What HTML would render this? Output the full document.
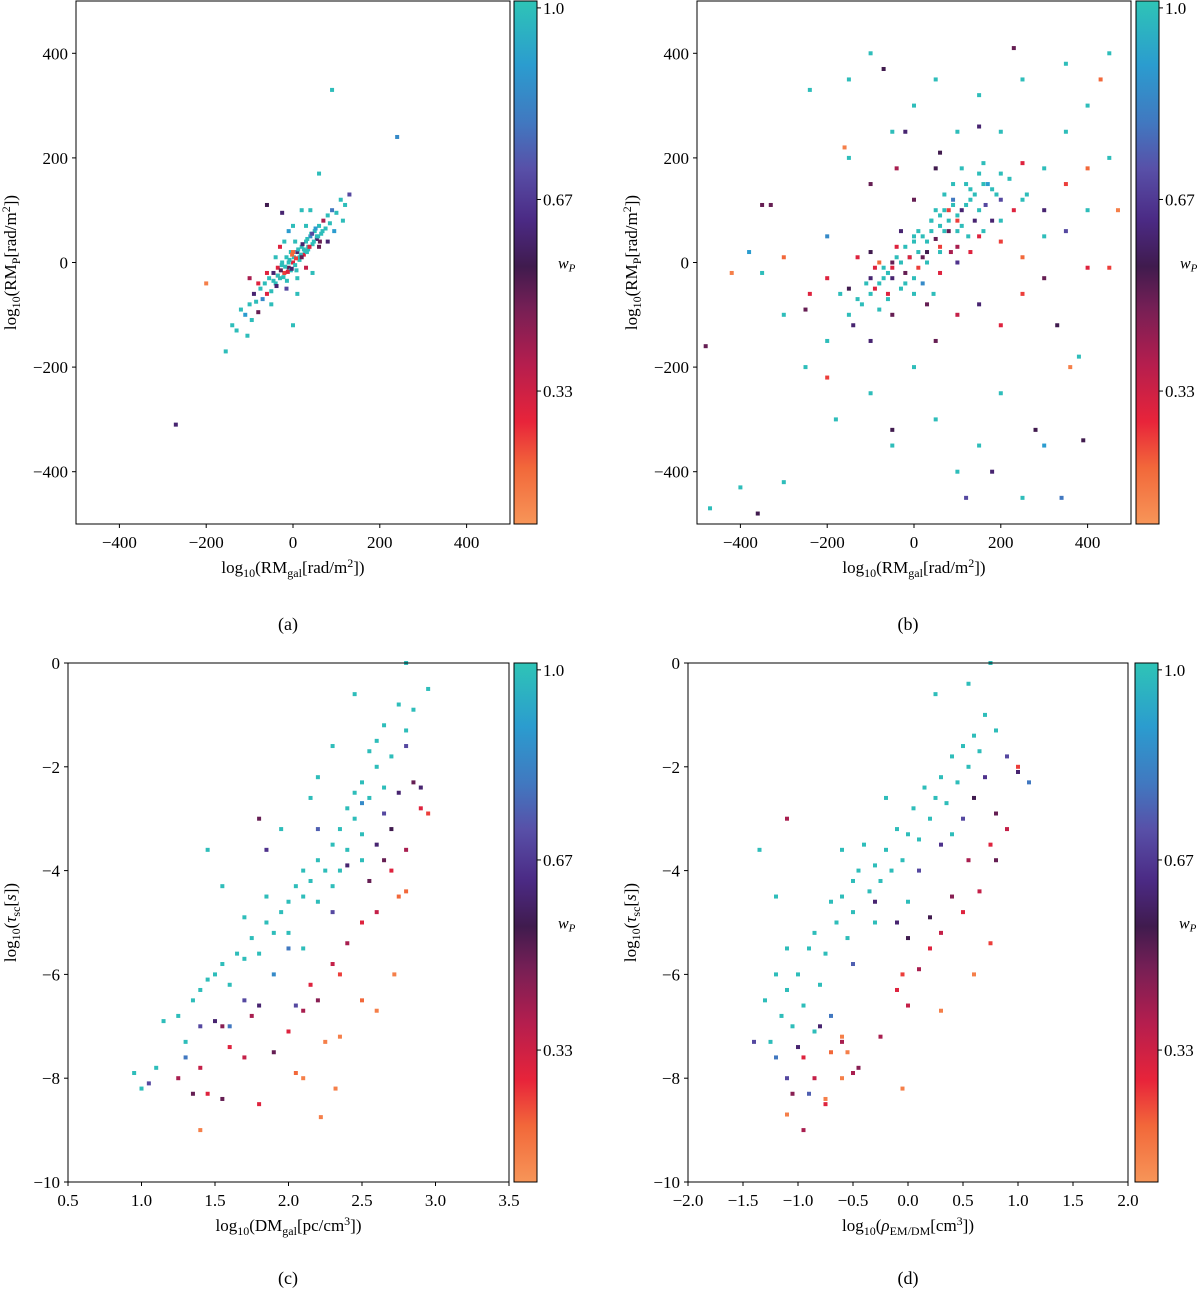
<!DOCTYPE html>
<html><head><meta charset="utf-8"><style>
html,body{margin:0;padding:0;background:#fff;}
svg{display:block;font-family:"Liberation Serif","DejaVu Serif",serif;}
</style></head><body>
<svg id="fig" width="1200" height="1292" viewBox="0 0 1200 1292" xmlns="http://www.w3.org/2000/svg">
<defs>
<linearGradient id="cbgrad" x1="0" y1="1" x2="0" y2="0"></linearGradient>
</defs>
</svg>
<script>
// ---------- data ----------
const aX=[-120,-110,-100,-95,-90,-85,-80,-75,-70,-65,-60,-55,-50,-45,-40,-35,-30,-25,-20,-15,-10,-5,0,5,10,15,20,25,30,35,40,45,50,55,60,65,70,75,80,85,90,100,110,120,130,115,95,-130,-140,-105,-20,-40,10,30,20,40,0,-30,60,80,-10,30,-60,-50,10,0,-100,-15,-25,0,5,45,-80,90,240,-200,-270,-155,60,-60,-5,15,25,-35,35,55,-10,
-45,-35,-28,-22,-18,-12,-8,-3,2,7,12,18,22,28,33,38,42,48,52,58,62,68,-38,-26,-14,-2,8,20,32,44];
const aY=[-90,-100,-80,-110,-60,-75,-95,-50,-70,-40,-60,-30,-55,-20,-40,-10,-30,0,-20,10,-10,20,0,-5,20,10,30,15,40,25,50,35,60,45,70,55,80,65,90,75,100,95,120,110,130,80,60,-130,-120,-140,40,10,-30,-10,100,100,70,30,30,40,60,70,-20,-80,-60,-120,-30,-50,95,20,40,-20,-40,330,240,-40,-310,-170,170,110,-15,5,25,-25,30,50,0,
-35,-25,-15,-28,-8,-18,5,-12,10,8,25,15,35,22,45,30,55,40,65,50,40,60,-45,-5,-35,15,-15,10,20,55];
const aW=[1,0.9,1,1,0.6,1,0.5,1,0.85,1,0.3,1,1,0.6,1,0.3,1,1,0.25,1,0.5,1,0.3,1,0.6,1,1,0.3,1,1,0.85,1,1,0.6,1,1,0.4,1,1,1,0.8,1,1,1,0.7,1,0.9,1,1,1,1,1,1,0.35,1,1,1,0.3,0.5,0.6,0.9,1,0.3,1,1,1,0.4,0.7,0.6,0.2,1,1,0.3,1,0.85,0.15,0.6,1,1,0.55,1,1,1,0.2,1,1,1,
1,1,0.5,1,1,0.3,1,0.6,1,0.25,1,1,0.6,1,1,0.3,1,1,0.9,1,0.5,1,0.6,1,1,0.2,1,0.5,1,0.7];

const bX=[0,20,40,60,80,100,120,140,160,180,200,220,50,70,90,110,-20,-40,-60,-80,-100,-120,-30,0,30,60,150,250,300,350,400,-150,-200,-250,-180,-100,0,50,100,-50,150,200,250,-300,-400,-470,-240,-150,-100,0,50,150,250,350,450,100,200,-50,-150,300,400,450,380,-300,-350,-380,300,-200,
-50,-20,10,30,-80,-100,-130,-30,60,100,150,200,250,300,350,400,450,-200,-240,-300,-350,-420,-480,-200,-100,-50,50,100,150,200,250,330,360,390,340,180,120,-50,-360,-330,-160,-100,0,50,100,200,250,300,350,400,430,470,60,-40,150,230,-70,-20,100,-150,-60,30,80,130,180,-250,280,
10,40,70,-10,90,130,160,-70,-90,20,110,-50,0,60,
-130,-110,-90,-70,-50,-30,-10,10,30,50,70,90,110,130,150,170,190,-60,-40,-20,0,20,40,60,80,100,120,140,160,-100,-80,200,230,260,-170,-140,45,85,125,165];
const bY=[40,50,60,70,80,90,110,130,150,140,170,160,100,130,150,180,30,10,-20,-40,-60,-80,-50,-30,0,20,100,120,180,250,300,-100,-150,-200,-300,-250,-200,-300,-400,-350,-350,-250,-450,-420,-430,-470,330,350,400,300,350,320,350,380,400,250,250,250,200,50,100,200,-180,-100,-20,20,-350,50,
-10,-20,-10,20,0,-30,10,60,-20,30,50,40,10,-30,60,-10,-10,-30,-60,10,110,-20,-160,-220,-150,-100,-150,-100,-80,-120,-60,-120,-200,-340,-450,-400,-450,-320,-480,110,220,150,120,180,80,120,190,100,150,180,350,100,210,180,260,410,370,250,0,-50,-60,-80,60,20,80,-90,-320,
60,80,100,10,120,140,60,-30,-10,-40,70,0,-60,30,
-70,-40,-50,-10,-30,0,10,20,40,45,60,110,100,120,170,150,130,-70,30,-40,50,10,80,90,100,60,150,80,190,20,-90,80,100,130,-60,-120,-60,20,50,110];
const bW=[1,1,1,1,1,1,1,1,1,1,1,1,1,1,1,1,1,1,1,1,1,1,1,1,1,1,1,1,1,1,1,1,1,1,1,1,1,1,1,1,1,1,1,1,1,1,1,1,1,1,1,1,1,1,1,1,1,1,1,1,1,1,1,1,1,0.9,0.9,0.85,
0.3,0.5,0.25,0.55,0.2,0.6,0.3,0.6,0.3,0.4,0.3,0.25,0.2,0.5,0.7,0.3,0.25,0.3,0.3,0.2,0.5,0.15,0.5,0.25,0.6,0.5,0.5,0.35,0.6,0.3,0.25,0.55,0.15,0.55,0.8,0.6,0.7,0.55,0.55,0.5,0.15,0.5,0.5,0.55,0.25,0.7,0.3,0.6,0.25,0.2,0.2,0.15,0.55,0.4,0.6,0.5,0.55,0.6,0.65,0.55,0.3,0.5,0.5,0.3,0.6,0.5,0.55,
1,1,1,1,0.8,1,1,1,0.3,0.85,1,0.5,1,0.25,
1,1,0.3,1,0.6,1,0.3,1,1,0.5,1,1,0.6,1,1,0.9,1,1,0.3,1,1,0.5,1,1,0.25,1,1,0.6,1,0.55,1,1,0.3,1,1,0.6,1,0.4,1,0.7];

const cX=[0.95,1.0,1.1,1.15,1.25,1.3,1.35,1.4,1.45,1.45,1.5,1.55,1.55,1.6,1.65,1.7,1.75,1.8,1.85,1.9,1.95,2.0,2.0,2.05,2.1,2.1,2.15,2.2,2.2,2.25,2.3,2.3,2.35,2.35,2.4,2.4,2.45,2.45,2.5,2.5,2.55,2.55,2.6,2.6,2.65,2.65,2.7,2.75,2.8,2.8,2.85,2.95,2.45,2.3,1.95,2.15,1.85,1.7,2.1,2.5,2.2,
1.05,1.3,1.4,1.5,1.6,1.7,1.8,1.9,2.0,2.2,2.3,2.4,2.5,2.6,2.65,2.7,2.75,2.8,2.85,2.9,1.8,1.85,2.05,
1.25,1.35,1.4,1.55,1.6,1.7,1.8,1.75,1.9,2.0,2.05,2.1,2.15,2.2,2.3,2.35,2.4,2.5,2.55,2.6,2.7,2.75,2.8,2.9,2.95,2.65,2.5,1.4,2.1,2.22,2.25,2.32,2.6,2.72,2.8,2.35,1.55,1.45];
const cY=[-7.9,-8.2,-7.8,-6.9,-6.8,-7.3,-6.5,-6.3,-6.1,-3.6,-6.0,-5.8,-4.3,-6.2,-5.6,-5.7,-5.3,-5.6,-5.0,-5.2,-4.8,-4.6,-5.2,-4.3,-4.5,-4.0,-4.2,-3.8,-4.6,-4.0,-3.5,-4.3,-3.2,-4.0,-3.6,-2.8,-3.0,-2.5,-2.3,-3.3,-1.7,-2.6,-2.0,-1.5,-2.4,-1.2,-1.8,-0.8,-1.3,0,-0.9,-0.5,-0.6,-1.6,-3.2,-2.6,-4.5,-4.9,-5.5,-3.8,-2.2,
-8.1,-7.6,-7.0,-6.9,-7.0,-6.5,-6.6,-6.0,-5.5,-3.2,-4.8,-3.9,-2.7,-3.5,-2.9,-3.2,-2.5,-1.6,-2.3,-2.4,-3.0,-3.6,-6.6,
-8.0,-8.3,-7.8,-8.4,-7.4,-7.6,-8.5,-6.8,-7.5,-7.1,-7.9,-6.7,-6.2,-6.5,-5.8,-6.0,-5.4,-5.0,-4.2,-4.8,-4.0,-4.5,-3.6,-2.8,-2.9,-3.8,-6.5,-9.0,-8.0,-8.75,-7.3,-8.2,-6.7,-6.0,-4.4,-7.2,-7.0,-8.3];
const cW=[1,1,1,1,1,1,1,1,1,1,1,1,1,1,1,1,1,1,1,1,1,1,1,1,1,1,1,1,1,1,1,1,1,1,1,1,1,1,1,1,1,1,1,1,1,1,1,1,1,1,1,1,1,1,1,1,1,1,1,1,1,
0.7,0.8,0.7,0.6,0.8,0.7,0.6,0.85,0.8,0.75,0.7,0.6,0.85,0.6,0.7,0.55,0.6,0.7,0.5,0.6,0.5,0.65,0.7,
0.4,0.5,0.35,0.5,0.3,0.35,0.3,0.4,0.5,0.3,0.2,0.4,0.3,0.45,0.35,0.25,0.4,0.3,0.5,0.35,0.3,0.2,0.4,0.3,0.25,0.5,0.2,0.15,0.15,0.15,0.15,0.15,0.15,0.15,0.2,0.15,0.45,0.3];

const dX=[-1.3,-1.25,-1.2,-1.15,-1.1,-1.1,-1.05,-1.0,-0.95,-0.9,-0.85,-0.8,-0.75,-0.7,-0.65,-0.6,-0.55,-0.5,-0.5,-0.45,-0.4,-0.35,-0.3,-0.25,-0.2,-0.15,-0.1,-0.05,0,0.05,0.1,0.15,0.2,0.25,0.3,0.35,0.4,0.45,0.5,0.55,0.6,0.65,0.7,0.75,0.8,0.55,0.25,-1.2,-0.2,-0.6,0.0,-0.85,0.4,-1.35,-0.3,
-1.4,-1.2,-1.1,-1.0,-0.9,-0.8,-0.7,-0.5,-0.3,0.1,0.2,0.3,0.5,0.6,0.7,0.8,0.9,1.0,1.1,-0.1,0.0,
-1.1,-1.05,-0.95,-0.85,-0.75,-0.7,-0.6,-0.5,-0.45,-0.25,-0.1,-0.05,0,0.1,0.2,0.3,0.4,0.5,0.55,0.65,0.75,0.75,0.8,0.9,1.0,-1.1,-0.95,-0.75,-0.6,-0.6,-0.05,0.3,0.6,-0.55];
const dY=[-6.5,-7.3,-6.0,-6.8,-6.3,-5.5,-7.0,-6.0,-6.6,-5.5,-5.2,-6.2,-5.6,-4.6,-5.0,-4.5,-5.3,-4.2,-4.8,-4.0,-3.5,-4.4,-3.9,-4.2,-3.6,-4.0,-3.2,-3.8,-3.3,-2.8,-3.4,-2.4,-3.0,-2.6,-2.2,-2.7,-1.8,-2.3,-1.6,-2.0,-1.4,-1.7,-1.0,0,-1.3,-0.4,-0.6,-4.5,-2.6,-3.6,-4.6,-7.1,-3.3,-3.6,-5.0,
-7.3,-7.6,-8.0,-7.4,-8.3,-7.0,-6.8,-5.8,-4.6,-4.0,-4.9,-3.5,-3.0,-2.6,-2.2,-2.9,-1.8,-2.1,-2.3,-5.0,-5.3,
-3.0,-8.3,-7.6,-8.0,-8.5,-7.5,-7.3,-7.9,-7.8,-7.2,-6.3,-6.0,-6.6,-5.9,-5.5,-5.2,-4.5,-4.8,-3.8,-4.4,-3.5,-5.4,-3.8,-3.2,-2.0,-8.7,-9.0,-8.4,-8.0,-7.2,-8.2,-6.7,-6.0,-7.5];
const dW=[1,1,1,1,1,1,1,1,1,1,1,1,1,1,1,1,1,1,1,1,1,1,1,1,1,1,1,1,1,1,1,1,1,1,1,1,1,1,1,1,1,1,1,1,1,1,1,1,1,1,1,1,1,1,1,
0.7,0.8,0.7,0.6,0.75,0.6,0.8,0.75,0.6,0.7,0.55,0.65,0.7,0.55,0.65,0.5,0.7,0.6,0.8,0.6,0.55,
0.4,0.45,0.3,0.35,0.3,0.2,0.4,0.4,0.45,0.4,0.3,0.25,0.35,0.4,0.3,0.35,0.45,0.3,0.4,0.35,0.3,0.25,0.5,0.35,0.25,0.15,0.4,0.15,0.15,0.15,0.15,0.15,0.15,0.15];

const rmTicks=[-400,-200,0,200,400];
const cxTicks=[0.5,1.0,1.5,2.0,2.5,3.0,3.5];
const dxTicks=[-2.0,-1.5,-1.0,-0.5,0.0,0.5,1.0,1.5,2.0];
const tauTicks=[0,-2,-4,-6,-8,-10];
const cbTicks=[1/3,2/3,1.0];
const cbLabels=["0.33","0.67","1.0"];

// ---------- colormap ----------
const cmap=[[0.10,'#f79558'],[0.2,'#f2683a'],[0.28,'#e8243a'],[0.38,'#b51e4e'],[0.48,'#741f55'],[0.55,'#401b4e'],[0.63,'#4b2a84'],[0.72,'#5850a8'],[0.8,'#4178c0'],[0.9,'#2b9ccf'],[1.02,'#2ec4b6']];
function hex2rgb(h){return [parseInt(h.substr(1,2),16),parseInt(h.substr(3,2),16),parseInt(h.substr(5,2),16)];}
function col(v){
  if(v<=cmap[0][0])return cmap[0][1];
  for(let i=1;i<cmap.length;i++){
    if(v<=cmap[i][0]){const t=(v-cmap[i-1][0])/(cmap[i][0]-cmap[i-1][0]);
      const a=hex2rgb(cmap[i-1][1]),b=hex2rgb(cmap[i][1]);
      return 'rgb('+a.map((x,k)=>Math.round(x+(b[k]-x)*t)).join(',')+')';}
  }
  return cmap[cmap.length-1][1];
}
const NS='http://www.w3.org/2000/svg';
const svg=document.getElementById('fig');
const grad=document.getElementById('cbgrad');
const VMIN=0.102,VMAX=1.012;
cmap.forEach(s=>{const st=document.createElementNS(NS,'stop');st.setAttribute('offset',Math.max(0,Math.min(1,(s[0]-VMIN)/(VMAX-VMIN))));st.setAttribute('stop-color',s[1]);grad.appendChild(st);});
function el(tag,attrs,parent){const e=document.createElementNS(NS,tag);for(const k in attrs)e.setAttribute(k,attrs[k]);(parent||svg).appendChild(e);return e;}

function panel(p){
  const g=el('g',{});
  
  
  const sx=v=>p.L+(v-p.x0)/(p.x1-p.x0)*(p.R-p.L);
  const sy=v=>p.B-(v-p.y0)/(p.y1-p.y0)*(p.B-p.T);
  const pts=el('g',{},g);
  
  
  for(let i=0;i<p.X.length;i++){
    const x=sx(p.X[i]),y=sy(p.Y[i]);
    if(x<p.L||x>p.R||y<p.T||y>p.B)continue;
    const r=el('rect',{x:x-2,y:y-2,width:4,height:4,fill:col(p.W[i])},pts);
    
    
  }
  const fr=el('rect',{x:p.L,y:p.T,width:p.R-p.L,height:p.B-p.T,fill:'none',stroke:'#000','stroke-width':1},g);
  
  
  p.xt.forEach(v=>{const x=sx(v);
    el('line',{x1:x,x2:x,y1:p.B,y2:p.B+4,stroke:'#000'},g);
    const t=el('text',{x:x,y:p.B+24,'text-anchor':'middle','font-size':17},g);
    t.textContent=p.xf(v).replace('-','\u2212');
    
    
  });
  p.yt.forEach(v=>{const y=sy(v);
    el('line',{x1:p.L-4,x2:p.L,y1:y,y2:y,stroke:'#000'},g);
    const t=el('text',{x:p.L-8,y:y+6,'text-anchor':'end','font-size':17},g);
    t.textContent=String(v).replace('-','\u2212');
    
    
  });
  const cb=el('rect',{x:p.cbL,y:p.T,width:23,height:p.B-p.T,fill:'url(#cbgrad)',stroke:'#000','stroke-width':1},g);
  
  
  const cy=v=>p.B-(v-VMIN)/(VMAX-VMIN)*(p.B-p.T);
  cbTicks.forEach((v,i)=>{const y=cy(v);
    el('line',{x1:p.cbL+23,x2:p.cbL+27,y1:y,y2:y,stroke:'#000'},g);
    const t=el('text',{x:p.cbL+29,y:y+6,'font-size':17},g);
    t.textContent=cbLabels[i];
    
    
  });
  const wl=el('text',{x:p.cbL+44,y:(p.T+p.B)/2+6,'font-size':16,'font-style':'italic'},g);
  wl.innerHTML='w<tspan font-size="11" dy="3">P</tspan>';
  
  
  const xl=el('text',{x:(p.L+p.R)/2,y:p.B+49,'text-anchor':'middle','font-size':17},g);
  xl.innerHTML=p.xlab;
  
  
  const yl=el('text',{x:0,y:0,'text-anchor':'middle','font-size':17,transform:'translate('+(p.L-p.ylOff)+','+((p.T+p.B)/2)+') rotate(-90)'},g);
  yl.innerHTML=p.ylab;
  
  
  const cap=el('text',{x:p.capX,y:p.capY,'text-anchor':'middle','font-size':18},g);
  cap.textContent=p.cap;
  
  
}
const sub=(s)=>'<tspan font-size="12" dy="4">'+s+'</tspan><tspan dy="-4">';
const rmGal='log'+sub('10')+'(RM'+'</tspan>'+sub('gal')+'[rad/m</tspan><tspan font-size="12" dy="-6">2</tspan><tspan dy="6">])</tspan>';
const rmP='log'+sub('10')+'(RM'+'</tspan>'+sub('P')+'[rad/m</tspan><tspan font-size="12" dy="-6">2</tspan><tspan dy="6">])</tspan>';
const tau='log'+sub('10')+'(</tspan><tspan font-style="italic">τ</tspan>'+sub('sc')+'[</tspan><tspan font-style="italic">s</tspan><tspan>])</tspan>';
const dm='log'+sub('10')+'(DM</tspan>'+sub('gal')+'[pc/cm</tspan><tspan font-size="12" dy="-6">3</tspan><tspan dy="6">])</tspan>';
const rho='log'+sub('10')+'(</tspan><tspan font-style="italic">ρ</tspan>'+sub('EM/DM')+'[cm</tspan><tspan font-size="12" dy="-6">3</tspan><tspan dy="6">])</tspan>';
const f0=v=>String(v), f1=v=>v.toFixed(1);
panel({name:'panel-a',X:aX,Y:aY,W:aW,L:76,R:510,T:1,B:524,x0:-500,x1:500,y0:-500,y1:500,xt:rmTicks,yt:[400,200,0,-200,-400],xf:f0,cbL:514,xlab:rmGal,ylab:rmP,ylOff:60,cap:'(a)',capX:288,capY:630});
panel({name:'panel-b',X:bX,Y:bY,W:bW,L:697,R:1131,T:1,B:524,x0:-500,x1:500,y0:-500,y1:500,xt:rmTicks,yt:[400,200,0,-200,-400],xf:f0,cbL:1136,xlab:rmGal,ylab:rmP,ylOff:60,cap:'(b)',capX:908,capY:630});
panel({name:'panel-c',X:cX,Y:cY,W:cW,L:68,R:509,T:663,B:1182,x0:0.5,x1:3.5,y0:-10,y1:0,xt:cxTicks,yt:tauTicks,xf:f1,cbL:514,xlab:dm,ylab:tau,ylOff:52,cap:'(c)',capX:288,capY:1284});
panel({name:'panel-d',X:dX,Y:dY,W:dW,L:688,R:1128,T:663,B:1182,x0:-2,x1:2,y0:-10,y1:0,xt:dxTicks,yt:tauTicks,xf:f1,cbL:1135,xlab:rho,ylab:tau,ylOff:52,cap:'(d)',capX:908,capY:1284});
</script>
</body></html>
